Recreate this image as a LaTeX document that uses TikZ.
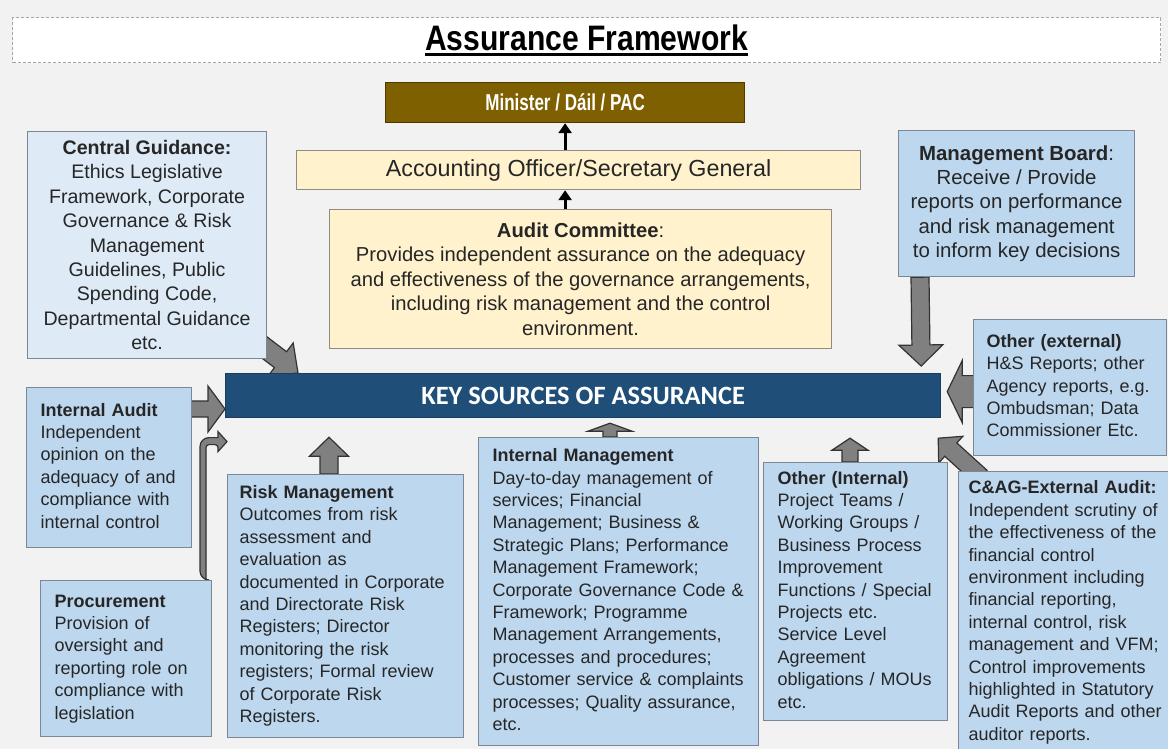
\documentclass[tikz,border=0pt]{standalone}
\usepackage{fontspec}
\setmainfont{Liberation Sans}
\newfontfamily\narrowfont[FakeStretch=0.85]{Liberation Sans}
\newfontfamily\condfont[FakeStretch=0.74]{Liberation Sans}
\newfontfamily\keyfont{Carlito}
\usepackage{xcolor}
\usepackage{tikz}
\usetikzlibrary{arrows.meta,calc}

\definecolor{pagebg}{HTML}{F2F2F2}
\definecolor{paleblue}{HTML}{DEEBF7}
\definecolor{midblue}{HTML}{BDD7EE}
\definecolor{boxline}{HTML}{7B8794}
\definecolor{paleyellow}{HTML}{FFF2CC}
\definecolor{yellowline}{HTML}{8F8B80}
\definecolor{ministerbrown}{HTML}{7F6000}
\definecolor{keyblue}{HTML}{1F4E79}
\definecolor{arrowfill}{HTML}{808080}
\definecolor{arrowline}{HTML}{333333}
\definecolor{bodytext}{HTML}{262626}

\newcommand\titleul[1]{\setbox0=\hbox{#1}\rlap{\rule[-2.6pt]{\wd0}{1.2pt}}\box0}
\newcommand\boxlines[1]{\begin{tabular}{@{}l@{}}#1\end{tabular}}

\pgfdeclarelayer{back}
\pgfdeclarelayer{under}
\pgfsetlayers{back,under,main}

\tikzset{
  box/.style={draw=boxline, line width=0.6pt, anchor=north west, inner sep=0pt,
    text=bodytext, font=\fontsize{9}{11.2}\selectfont},
  bluebox/.style={box, fill=midblue, align=left},
  palebox/.style={box, fill=paleblue, align=center, font=\fontsize{9.8}{12.2}\selectfont},
  yellowbox/.style={box, draw=yellowline, fill=paleyellow, align=center},
  upblk/.style={draw=black, line width=1.4pt, -{Triangle[length=5pt, width=6.5pt]}},
  blockarr/.style args={#1/#2/#3}{draw=arrowline, fill=arrowfill, line width=0.6pt,
    to path={($(\tikztotarget)!#3!(\tikztostart)$) coordinate (hb)
      ($(\tikztostart)!#1!90:(\tikztotarget)$) -- ($(hb)!#1!270:(\tikztostart)$)
      -- ($(hb)!#2!270:(\tikztostart)$) -- (\tikztotarget)
      -- ($(hb)!#2!90:(\tikztostart)$) -- ($(hb)!#1!90:(\tikztostart)$)
      -- ($(\tikztostart)!#1!270:(\tikztotarget)$) -- cycle}},
}

\begin{document}
\begin{tikzpicture}[x=0.5pt, y=-0.5pt]
\useasboundingbox (0,0) rectangle (1168,749);
\clip (0,0) rectangle (1168,749);
\begin{pgfonlayer}{back}
  \fill[pagebg] (0,0) rectangle (1168,749);
\end{pgfonlayer}

\node[box, draw=gray!70, dash pattern=on 1.5pt off 1pt, fill=white, text=black,
  font=\narrowfont\bfseries\fontsize{17.7}{20}\selectfont,
  minimum width=574pt, minimum height=22.5pt] (title) at (12,17) {\titleul{Assurance Framework}};

\node[box, draw=ministerbrown!60!black, fill=ministerbrown, text=white,
  font=\condfont\bfseries\fontsize{11.5}{13}\selectfont,
  minimum width=179.5pt, minimum height=20pt] (min) at (385,82) {Minister / Dáil / PAC};
\node[yellowbox, font=\fontsize{11.65}{13}\selectfont, minimum width=282pt, minimum height=19.5pt]
  (ao) at (296,150) {Accounting Officer/Secretary General};
\node[yellowbox, font=\fontsize{10.1}{12.25}\selectfont, minimum width=251pt, minimum height=69.5pt]
  (ac) at (329,209) {\textbf{Audit Committee}:\\
  Provides independent assurance on the adequacy\\
  and effectiveness of the governance arrangements,\\
  including risk management and the control\\
  environment.};

\node[palebox, minimum width=119.5pt, minimum height=113.5pt] (cg) at (27,131)
  {\textbf{Central Guidance:}\\ Ethics Legislative\\ Framework, Corporate\\ Governance \& Risk\\
  Management\\ Guidelines, Public\\ Spending Code,\\ Departmental Guidance\\ etc.};
\node[bluebox, align=center, font=\fontsize{10.2}{12.15}\selectfont, minimum width=118pt, minimum height=73pt]
  (mb) at (898,130) {\textbf{Management Board}:\\ Receive / Provide\\ reports on performance\\
  and risk management\\ to inform key decisions};

\node[anchor=north west, inner sep=0pt, fill=keyblue, draw=keyblue!80!black, line width=0.6pt,
  text=white, font=\keyfont\bfseries\fontsize{13.2}{15}\selectfont,
  minimum width=357.5pt, minimum height=22pt] (key) at (225,373) {KEY SOURCES OF ASSURANCE};

\node[bluebox, text width=68.5pt, minimum width=82.5pt, minimum height=80pt] (iaud) at (26,387)
  {\boxlines{\textbf{Internal Audit}\\ Independent\\ opinion on the\\ adequacy of and\\
  compliance with\\ internal control}};
\node[bluebox, text width=71.5pt, minimum width=85.5pt, minimum height=78pt] (proc) at (40,580)
  {\boxlines{\textbf{Procurement}\\ Provision of\\ oversight and\\ reporting role on\\
  compliance with\\ legislation}};
\node[bluebox, text width=106pt, minimum width=118pt, minimum height=131.5pt] (rm) at (227,474)
  {\boxlines{\textbf{Risk Management}\\ Outcomes from risk\\ assessment and\\ evaluation as\\
  documented in Corporate\\ and Directorate Risk\\ Registers; Director\\ monitoring the risk\\
  registers; Formal review\\ of Corporate Risk\\ Registers.}};
\node[bluebox, text width=126pt, minimum width=140pt, minimum height=154pt] (im) at (478,437)
  {\boxlines{\textbf{Internal Management}\\ Day-to-day management of\\ services; Financial\\
  Management; Business \&\\ Strategic Plans; Performance\\ Management Framework;\\
  Corporate Governance Code \&\\ Framework; Programme\\ Management Arrangements,\\
  processes and procedures;\\ Customer service \& complaints\\ processes; Quality assurance,\\ etc.}};
\node[bluebox, text width=78pt, minimum width=92pt, minimum height=129pt] (oi) at (763,462)
  {\boxlines{\textbf{Other (Internal)}\\ Project Teams /\\ Working Groups /\\ Business Process\\
  Improvement\\ Functions / Special\\ Projects etc.\\ Service Level\\ Agreement\\
  obligations / MOUs\\ etc.}};
\node[bluebox, text width=83.5pt, minimum width=96.5pt, minimum height=68pt] (oe) at (973,319)
  {\boxlines{\textbf{Other (external)}\\ H\&S Reports; other\\ Agency reports, e.g.\\
  Ombudsman; Data\\ Commissioner Etc.}};
\node[bluebox, text width=97pt, minimum width=107pt, minimum height=141pt] (cag) at (958,471)
  {\boxlines{\textbf{C\&AG-External Audit:}\\ Independent scrutiny of\\ the effectiveness of the\\
  financial control\\ environment including\\ financial reporting,\\ internal control, risk\\
  management and VFM;\\ Control improvements\\ highlighted in Statutory\\ Audit Reports and other\\
  auditor reports.}};

\draw[upblk] (ao.north -| min.south) -- (min.south);
\draw[upblk] (ac.north -| min.south) -- (ao.south -| min.south);

\coordinate (cgfrom) at ($(cg.south east)+(-11,-18)$);
\coordinate (cgto) at ($(key.north west)+(73,0)$);
\coordinate (iafrom) at ($(iaud.north east)+(-1,22)$);
\coordinate (iato) at ($(key.north west)+(0,36)$);
\coordinate (mbfrom) at ($(mb.south west)+(22,0)$);
\coordinate (mbto) at ($(key.north east)+(-20,-7)$);
\coordinate (oefrom) at ($(oe.west)+(2,4)$);
\coordinate (oeto) at ($(key.east)+(6,-4)$);
\coordinate (cagfrom) at ($(cag.north west)+(23,6)$);
\coordinate (cagto) at ($(key.south east)+(-3,20)$);
\coordinate (rmfrom) at ($(rm.north west)+(102,0)$);
\coordinate (rmto) at ($(key.south west)+(104,19)$);
\coordinate (imfrom) at ($(im.north west)+(132,0)$);
\coordinate (imto) at ($(key.south west)+(385,5)$);
\coordinate (oifrom) at ($(oi.north west)+(87,0)$);
\coordinate (oito) at ($(key.south west)+(625,20)$);
\coordinate (procfrom) at ($(proc.north west)+(163,0)$);
\coordinate (procto) at ($(key.west)+(2,46)$);

\begin{pgfonlayer}{under}
  \draw[blockarr=5pt/10.5pt/11pt] (cgfrom) to (cgto);
  \draw[blockarr=4pt/11.5pt/8.5pt] (iafrom) to (iato);
  \draw[blockarr=4.5pt/11pt/10.5pt] (mbfrom) to (mbto);
  \draw[blockarr=8pt/15.5pt/7.5pt] (oefrom) to (oeto);
  \draw[blockarr=4.5pt/9pt/8.5pt] (cagfrom) to (cagto);
  \draw[blockarr=4.5pt/9.75pt/9.5pt] (rmfrom) to (rmto);
  \draw[blockarr=3.5pt/11pt/4pt] (imfrom) to (imto);
  \draw[blockarr=4pt/9pt/6pt] (oifrom) to (oito);
  \draw[draw=arrowline, fill=arrowfill, line width=0.6pt]
    ($(procfrom)+(3,0)$) [rounded corners=1.5pt] |- ($(procto)+(-9,3)$) [sharp corners]
    -- ($(procto)+(-9,10)$) -- (procto) -- ($(procto)+(-9,-10)$) -- ($(procto)+(-9,-4)$)
    [rounded corners=4.5pt] -| ($(procfrom)+(-3,0)$) [sharp corners] -- cycle;
\end{pgfonlayer}
\end{tikzpicture}
\end{document}
